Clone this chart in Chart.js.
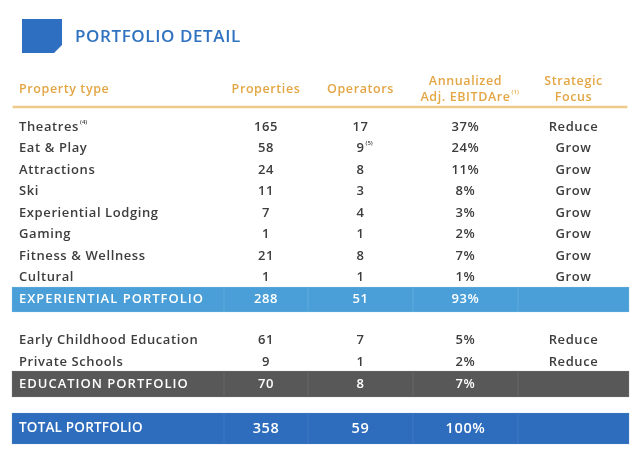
<!DOCTYPE html>
<html lang="en">
<head>
  <meta charset="UTF-8" />
  <title>Portfolio Detail</title>
  <script src="https://cdn.jsdelivr.net/npm/chart.js"></script>
  <style>
    * { box-sizing: border-box; margin: 0; padding: 0 }
    body { background: #fff; }
    .wrap { width: 640px; height: 455px; position: relative }
  </style>
</head>
<body>
  <div class="wrap"><canvas id="tabla"></canvas></div>
  <script>
    // --- data ---
    const title = 'PORTFOLIO DETAIL';
    const headers = [['Property type'], ['Properties'], ['Operators'], ['Annualized', 'Adj. EBITDAre'], ['Strategic', 'Focus']];

    const expTypes = ['Theatres', 'Eat & Play', 'Attractions', 'Ski', 'Experiential Lodging', 'Gaming', 'Fitness & Wellness', 'Cultural'];
    const expProperties = [165, 58, 24, 11, 7, 1, 21, 1];
    const expOperators = [17, 9, 8, 3, 4, 1, 8, 1];
    const expEbitda = [37, 24, 11, 8, 3, 2, 7, 1];
    const expFocus = ['Reduce', 'Grow', 'Grow', 'Grow', 'Grow', 'Grow', 'Grow', 'Grow'];

    const eduTypes = ['Early Childhood Education', 'Private Schools'];
    const eduProperties = [61, 9];
    const eduOperators = [7, 1];
    const eduEbitda = [5, 2];
    const eduFocus = ['Reduce', 'Reduce'];

    const totalLabels = ['EXPERIENTIAL PORTFOLIO', 'EDUCATION PORTFOLIO', 'TOTAL PORTFOLIO'];
    const totalProperties = [288, 70, 358];
    const totalOperators = [51, 8, 59];
    const totalEbitda = [93, 7, 100];

    // footnote marks
    const typeNotes = { 'Theatres': '(4)' };
    const operatorNotes = { 'Eat & Play': '(5)' };
    const headerNote = '(1)';

    // --- layout (pixels of the 640x455 canvas) ---
    const colEdges = [12, 224, 308, 413, 518, 629];
    const colCenters = colEdges.slice(1, -1).map((e, i) => (e + colEdges[i + 2]) / 2);
    const expRowY = expTypes.map((t, i) => 127 + i * 21.5);
    const eduRowY = [340, 362];
    const bandY = [299.5, 384, 428.5];
    const bandH = [25, 26, 31];
    const bandColors = ['#4a9fd8', '#585858', '#2e6dbd'];
    const bandEdgeColors = ['#5aa8dc', '#636363', '#3a76c2'];
    const gold = '#e3a644';
    const blue = '#2f72bf';
    const ink = '#3d3d3d';
    const FONT = "'Open Sans', sans-serif";

    const bandSets = totalLabels.map((l, b) => ({
      data: colEdges.slice(0, -1).map((e, i) => ({ y: bandY[b], x: [e, colEdges[i + 1]] })),
      backgroundColor: bandColors[b],
      borderColor: bandEdgeColors[b],
      borderWidth: 1,
      borderSkipped: false,
      barThickness: bandH[b],
      grouped: false
    }));
    // header rule
    bandSets.push({
      data: [{ y: 107, x: [13, 627] }],
      backgroundColor: '#edc98a',
      barThickness: 2,
      grouped: false
    });

    function txt(ctx, s, x, y, size, weight, color, align, spacing) {
      ctx.font = weight + ' ' + size + 'px ' + FONT;
      ctx.letterSpacing = (spacing === undefined ? (size > 7 ? 0.6 : 0) : spacing) + 'px';
      ctx.fillStyle = color;
      ctx.textAlign = align || 'center';
      ctx.textBaseline = 'middle';
      ctx.fillText(s, x, y);
      return ctx.measureText(s).width;
    }
    function sup(ctx, s, x, y, color) {
      txt(ctx, s, x, y - 5, 6, 600, color, 'left');
    }

    const tablaPlugin = {
      id: 'tabla',
      beforeDatasetsDraw(chart) {
        const ctx = chart.ctx, sx = chart.scales.x, sy = chart.scales.y;
        const x0 = sx.getPixelForValue(22), x1 = sx.getPixelForValue(62);
        const y0 = sy.getPixelForValue(19), y1 = sy.getPixelForValue(53);
        ctx.save();
        ctx.fillStyle = '#2f6fc2';
        ctx.beginPath();
        ctx.moveTo(x0, y0); ctx.lineTo(x1, y0); ctx.lineTo(x1, y1 - 8);
        ctx.lineTo(x1 - 8, y1); ctx.lineTo(x0, y1); ctx.closePath();
        ctx.fill();
        ctx.restore();
      },
      afterDatasetsDraw(chart) {
        const ctx = chart.ctx, sx = chart.scales.x, sy = chart.scales.y;
        const X = v => sx.getPixelForValue(v), Y = v => sy.getPixelForValue(v);
        ctx.save();
        txt(ctx, title, X(75), Y(37), 17, 600, blue, 'left');

        // headers
        const hs = 12.5;
        txt(ctx, headers[0][0], X(19), Y(89), hs, 600, gold, 'left');
        txt(ctx, headers[1][0], X(colCenters[0]), Y(89), hs, 600, gold);
        txt(ctx, headers[2][0], X(colCenters[1]), Y(89), hs, 600, gold);
        txt(ctx, headers[3][0], X(colCenters[2]), Y(81), hs, 600, gold);
        const w = txt(ctx, headers[3][1], X(colCenters[2]), Y(97), hs, 600, gold);
        sup(ctx, headerNote, X(colCenters[2]) + w / 2 + 1, Y(97), gold);
        txt(ctx, headers[4][0], X(colCenters[3]), Y(81), hs, 600, gold);
        txt(ctx, headers[4][1], X(colCenters[3]), Y(97), hs, 600, gold);

        // body rows
        const bs = 13;
        const rows = (types, props, ops, eb, foc, ys) => types.forEach((t, i) => {
          const y = Y(ys[i]);
          const tw = txt(ctx, t, X(19), y, bs, 600, ink, 'left');
          if (typeNotes[t]) sup(ctx, typeNotes[t], X(19) + tw + 1, y, ink);
          txt(ctx, String(props[i]), X(colCenters[0]), y, bs, 600, ink);
          const ow = txt(ctx, String(ops[i]), X(colCenters[1]), y, bs, 600, ink);
          if (operatorNotes[t]) sup(ctx, operatorNotes[t], X(colCenters[1]) + ow / 2 + 1, y, ink);
          txt(ctx, eb[i] + '%', X(colCenters[2]), y, bs, 600, ink);
          txt(ctx, foc[i], X(colCenters[3]), y, bs, 600, ink);
        });
        rows(expTypes, expProperties, expOperators, expEbitda, expFocus, expRowY);
        rows(eduTypes, eduProperties, eduOperators, eduEbitda, eduFocus, eduRowY);

        // totals
        totalLabels.forEach((l, b) => {
          const y = Y(bandY[b]);
          const big = b === 2;
          const fs = big ? 14.5 : 13;
          txt(ctx, l, X(19), y, big ? 13.5 : 13, 600, '#fff', 'left', big ? 0.2 : 1);
          txt(ctx, String(totalProperties[b]), X(colCenters[0]), y, fs, 600, '#fff');
          txt(ctx, String(totalOperators[b]), X(colCenters[1]), y, fs, 600, '#fff');
          txt(ctx, totalEbitda[b] + '%', X(colCenters[2]), y, fs, 600, '#fff');
        });
        ctx.restore();
      }
    };

    new Chart(document.getElementById('tabla'), {
      type: 'bar',
      data: { datasets: bandSets },
      options: {
        indexAxis: 'y',
        responsive: true,
        maintainAspectRatio: false,
        animation: false,
        layout: { padding: 0 },
        plugins: { legend: { display: false }, tooltip: { enabled: false } },
        scales: {
          x: { type: 'linear', min: 0, max: 640, display: false, offset: false },
          y: { type: 'linear', min: 0, max: 455, reverse: true, display: false, offset: false }
        }
      },
      plugins: [tablaPlugin]
    });
  </script>
</body>
</html>
